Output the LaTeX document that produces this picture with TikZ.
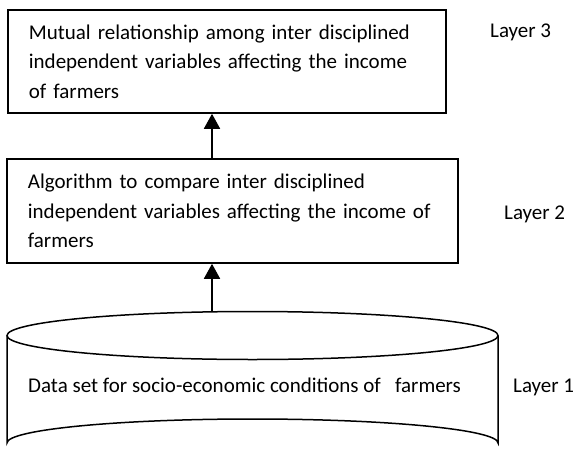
\documentclass[tikz,border=0pt]{standalone}
\usepackage{fontspec}
\setmainfont{Carlito}
\usetikzlibrary{arrows.meta}
\begin{document}
\begin{tikzpicture}[x=1pt,y=-1pt,
  txt/.style={font=\fontsize{21}{29.5}\selectfont, inner sep=0pt},
  layerbox/.style={draw, line width=1.8pt, align=left, inner xsep=21pt, inner ysep=0pt,
     font=\fontsize{21}{29.5}\selectfont},
  uparrow/.style={line width=1.8pt, -{Triangle[width=16pt,length=15pt]}},
  cyl/.style={line width=1.5pt}]
\useasboundingbox (0,0) rectangle (574,464);
% box 1
\node[layerbox, anchor=north west, minimum width=438pt, minimum height=103pt, text width=396pt]
  (b1) at (7,9) {Mutual relationship among inter disciplined\\independent variables affecting the income\\of farmers};
% box 2
\node[layerbox, anchor=north west, minimum width=451pt, minimum height=104pt, text width=409pt]
  (b2) at (6,158) {Algorithm to compare inter disciplined\\independent variables affecting the income of\\farmers};
% cylinder
\draw[cyl] (252.5,335.5) ellipse [x radius=245.5, y radius=24];
\draw[cyl] (7,335.5) -- (7,443) arc[start angle=180, end angle=360, x radius=245.5, y radius=24] -- (498,335.5);
\coordinate (cyltop) at (212,311.6);
\node[txt, anchor=base west] (d1) at (28,392) {Data set for socio-economic conditions of \ \ farmers};
% layers
\node[txt, anchor=base west] (l3) at (490,37) {Layer 3};
\node[txt, anchor=base west] (l2) at (504,219) {Layer 2};
\node[txt, anchor=base west] (l1) at (513,392) {Layer 1};
% arrows
\draw[uparrow] (b2.north -| cyltop) -- (b1.south -| cyltop);
\draw[uparrow] (cyltop) -- (b2.south -| cyltop);
\end{tikzpicture}
\end{document}
